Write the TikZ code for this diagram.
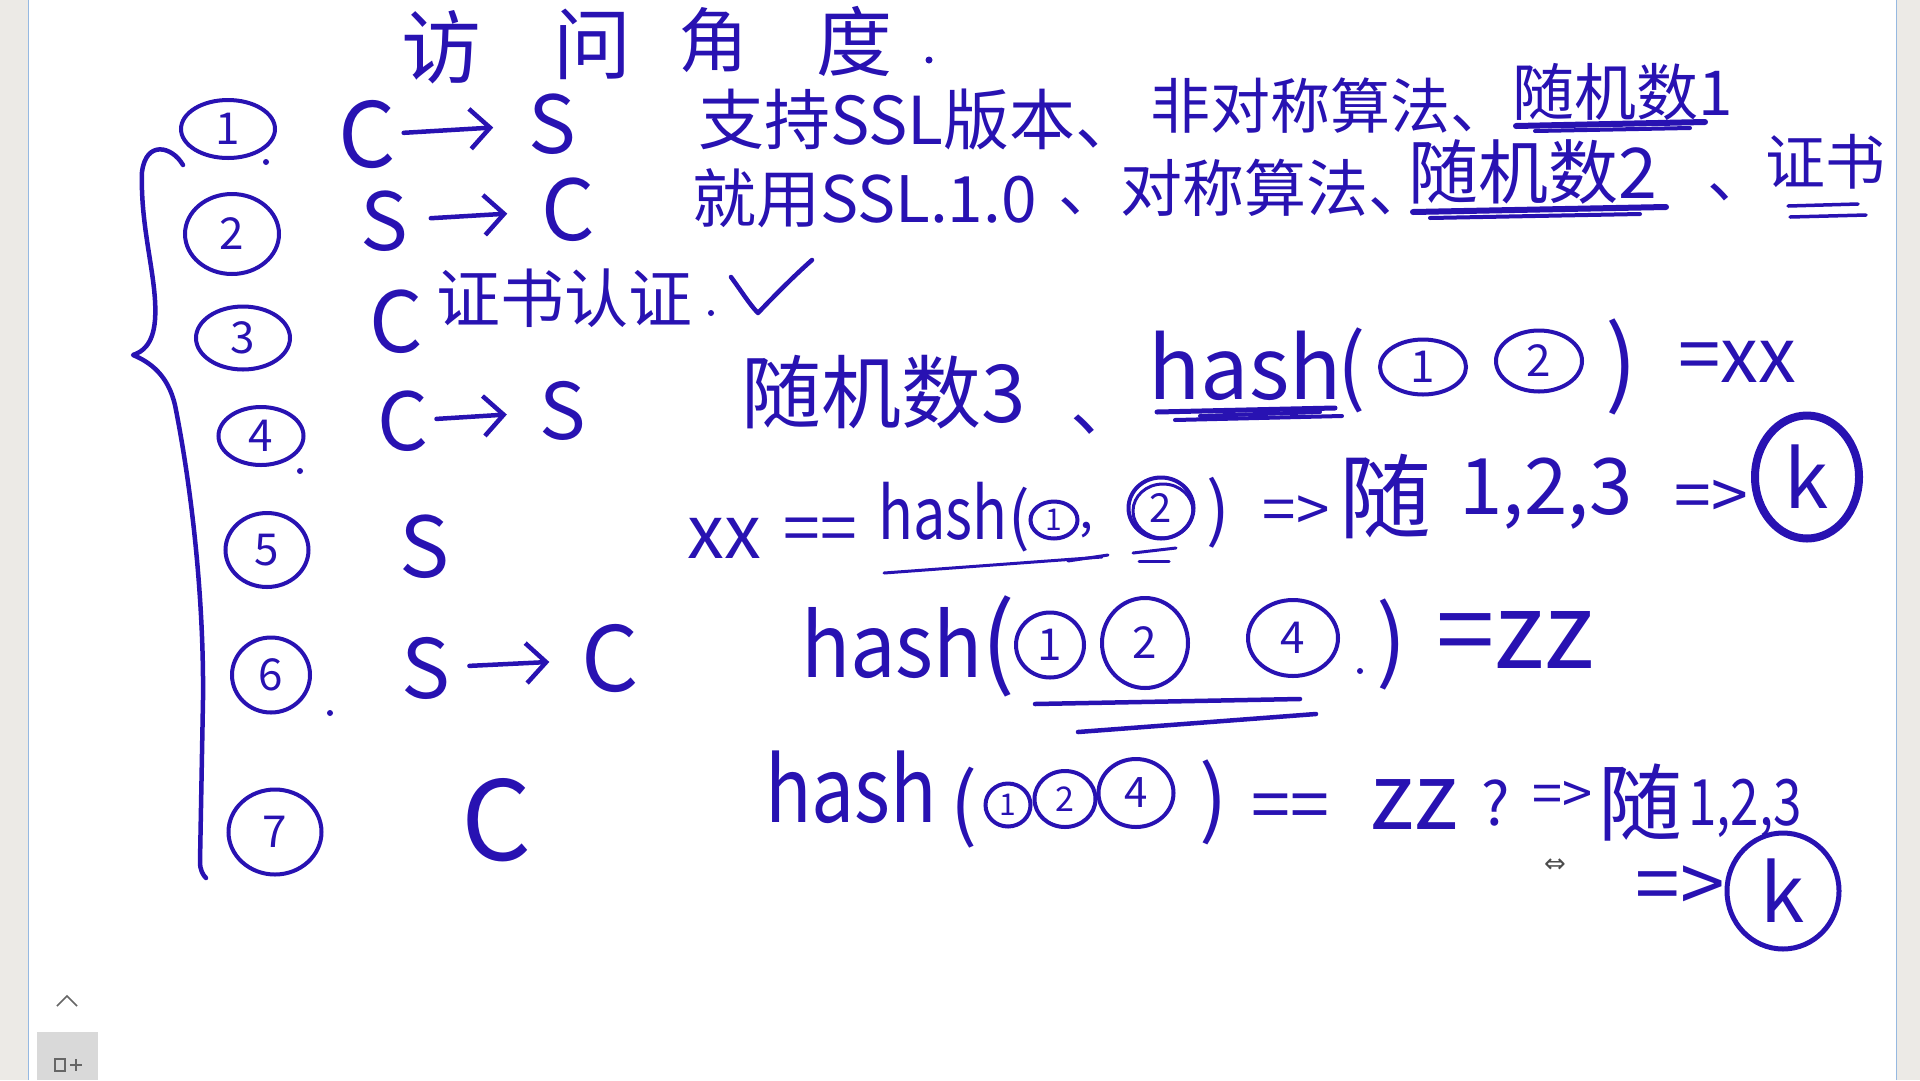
\documentclass[tikz,border=0pt]{standalone}
\usepackage{fontspec}
\usepackage{graphicx}
\setmainfont{Noto Sans CJK SC}
\newfontfamily\symfnt{DejaVu Sans}
\usetikzlibrary{shapes.geometric,arrows.meta}
\definecolor{ink}{RGB}{40,18,178}
\definecolor{side}{RGB}{236,234,230}
\definecolor{edgeblue}{RGB}{150,185,225}
\newcommand\hsz[1]{\fontsize{#1}{#1}\selectfont}
\begin{document}
\begin{tikzpicture}[x=1pt,y=-1pt,
  hw/.style={text=ink, inner sep=0pt, outer sep=0pt},
  pen/.style={draw=ink, line width=4.5pt, line cap=round, line join=round},
  num/.style={ellipse, draw=ink, line width=4pt, text=ink, inner sep=0pt, font=\hsz{44}},
  harrow/.style={pen, -{Straight Barb[length=20pt,width=40pt]}},
  kcirc/.style={ellipse, draw=ink, text=ink, inner sep=0pt, font=\hsz{80}}
]
\useasboundingbox (0,0) rectangle (1920,1080);
\fill[white] (0,0) rectangle (1920,1080);
\fill[side] (0,0) rectangle (28,1080);
\fill[side] (1897,0) rectangle (1920,1080);
\draw[edgeblue,line width=1.5pt] (28.5,0) -- (28.5,1080);
\draw[edgeblue,line width=1.5pt] (1896.5,0) -- (1896.5,1080);

% title
\node[hw,font=\hsz{80}] (t1) at (441,47) {访};
\node[hw,font=\hsz{78}] (t2) at (592,44) {问};
\node[hw,font=\hsz{70}] (t3) at (713,40) {角};
\node[hw,font=\hsz{76}] (t4) at (854,41) {度};
\fill[ink] (929,60) circle (3.5);

% brace
\draw[pen] (183,165) .. controls (172,146) and (146,140) .. (142,172)
  .. controls (140,230) and (158,280) .. (155,320)
  .. controls (153,345) and (142,352) .. (133,355)
  .. controls (150,362) and (168,375) .. (175,405)
  .. controls (192,490) and (204,600) .. (203,700)
  -- (200,862) .. controls (200,870) and (203,875) .. (206,878);

% row 1
\node[num,minimum width=94,minimum height=58] (n1) at (228,129) {1};
\fill[ink] (266,162) circle (3);
\node[hw,font=\hsz{90}] (c1) at (367,135) {C};
\node[hw,font=\hsz{80}] (s1) at (552,124) {S};
\draw[harrow,shorten <=8pt,shorten >=35pt] (c1) -- (s1);
\node[hw,font=\hsz{66},anchor=west] (r1a) at (698,120) {支持SSL版本、};
\node[hw,font=\hsz{60},anchor=west] (r1b) at (1150,106) {非对称算法、};
\node[hw,font=\hsz{62},anchor=west] (r1c) at (1512,92) {随机数1};
\draw[pen,line width=6pt] (1516,126) -- (1705,122);
\draw[pen,line width=4pt] (1535,131) -- (1690,128);

% row 2
\node[num,minimum width=94,minimum height=80] (n2) at (232,234) {2};
\node[hw,font=\hsz{80}] (s2) at (384,221) {S};
\node[hw,font=\hsz{84}] (c2) at (568,210) {C};
\draw[harrow,shorten <=23pt,shorten >=34pt] (s2) -- (c2);
\node[hw,font=\hsz{64},anchor=west] (r2a) at (692,198) {就用SSL.1.0};
\node[hw,font=\hsz{62},anchor=west] (r2b) at (1058,188) {、对称算法、};
\node[hw,font=\hsz{70},anchor=west] (r2c) at (1408,172) {随机数2};
\draw[pen,line width=6pt] (1413,212) -- (1666,207);
\draw[pen,line width=4pt] (1430,218) -- (1640,214);
\node[hw,font=\hsz{62}] (r2d) at (1738,192) {、};
\node[hw,font=\hsz{60},anchor=west] (r2e) at (1765,162) {证书};
\draw[pen,line width=3.5pt] (1788,206) -- (1858,204);
\draw[pen,line width=3.5pt] (1790,217) -- (1866,215);

% row 3
\node[num,minimum width=94,minimum height=63] (n3) at (243,338) {3};
\node[hw,font=\hsz{84}] (c3) at (396,322) {C};
\node[hw,font=\hsz{64},anchor=west] (r3) at (436,298) {证书认证};
\fill[ink] (711,313) circle (3);
\draw[pen] (731,277) .. controls (742,292) and (750,305) .. (758,313) .. controls (775,295) and (795,275) .. (812,260);

% row 4
\node[num,minimum width=85,minimum height=58] (n4) at (261,436) {4};
\fill[ink] (300,471) circle (3);
\node[hw,font=\hsz{80}] (c4) at (403,421) {C};
\node[hw,font=\hsz{78}] (s4) at (563,411) {S};
\draw[harrow,shorten <=8pt,shorten >=33pt] (c4) -- (s4);
\node[hw,font=\hsz{80},anchor=west] (r4a) at (741,392) {随机数3};
\node[hw,font=\hsz{70}] (r4b) at (1105,425) {、};
\node[hw,font=\hsz{86}] (h4) at (1245,366) {hash};
\draw[pen,line width=5pt] (1157,412) -- (1335,408);
\draw[pen,line width=4pt] (1175,420) -- (1342,416);
\draw[pen,line width=4pt] (1200,416) -- (1320,412);
\node[hw,font=\hsz{84}] (lp4) at (1352,370) {(};
\node[num,minimum width=86,minimum height=55] (a41) at (1423,367) {1};
\node[num,minimum width=86,minimum height=61] (a42) at (1539,361) {2};
\node[hw,font=\hsz{95}] (rp4) at (1622,367) {)};
\node[hw,font=\hsz{76}] (e4) at (1737,362) {=xx};

% row 5
\node[num,minimum width=83,minimum height=74] (n5) at (267,550) {5};
\node[hw,font=\hsz{84}] (s5) at (425,547) {S};
\node[hw,font=\hsz{74}] (x5) at (724,538) {xx};
\node[hw,font=\hsz{66}] (q5) at (820,535) {==};
\node[hw,font=\hsz{72}] (h5) at (943,511) {\scalebox{0.8}[1]{hash}};
\node[hw,font=\hsz{64}] (lp5) at (1019,520) {(};
\node[num,minimum width=47,minimum height=37,font=\hsz{30}] (a51) at (1054,520) {1};
\node[hw,font=\hsz{50}] (cm5) at (1086,530) {,};
\node[num,minimum width=65,minimum height=61,font=\hsz{40}] (a52) at (1161,508) {2};
\draw[ink,line width=3pt] (1163,511) ellipse (30 and 27);
\node[hw,font=\hsz{70}] (rp5) at (1218,513) {)};
\draw[pen,line width=3pt] (884,573) -- (1102,557);
\draw[pen,line width=3pt] (1068,561) -- (1108,555);
\draw[pen,line width=3pt] (1133,553) -- (1176,548);
\draw[pen,line width=3pt] (1139,561) -- (1169,561);
\node[hw,font=\hsz{60}] (ar5a) at (1296,514) {=>};
\node[hw,font=\hsz{92}] (sui5) at (1385,496) {随};
\node[hw,font=\hsz{78}] (n5b) at (1546,494) {1,2,3};
\node[hw,font=\hsz{66}] (ar5b) at (1711,500) {=>};
\node[kcirc,line width=8pt,minimum width=104,minimum height=123] (k1) at (1807,477) {k};

% row 6
\node[num,minimum width=78,minimum height=75] (n6) at (271,675) {6};
\fill[ink] (330,713) circle (3);
\node[hw,font=\hsz{82}] (s6) at (426,668) {S};
\node[hw,font=\hsz{90}] (c6) at (610,659) {C};
\draw[harrow,shorten <=19pt,shorten >=32pt] (s6) -- (c6);
\node[hw,font=\hsz{88}] (h6) at (892,643) {\scalebox{0.92}[1]{hash}};
\node[hw,font=\hsz{100}] (lp6) at (998,646) {(};
\node[num,minimum width=68,minimum height=65] (a61) at (1050,645) {1};
\node[num,minimum width=86,minimum height=90] (a62) at (1145,643) {2};
\node[num,minimum width=90,minimum height=76] (a64) at (1293,638) {4};
\fill[ink] (1360,671) circle (3);
\node[hw,font=\hsz{90}] (rp6) at (1392,644) {)};
\node[hw,font=\hsz{105}] (e6) at (1515,640) {=zz};
\draw[pen] (1035,704) -- (1300,699);
\draw[pen] (1078,732) -- (1316,714);

% row 7
\node[num,minimum width=93,minimum height=85] (n7) at (275,832) {7};
\node[hw,font=\hsz{110}] (c7) at (497,820) {C};
\node[hw,font=\hsz{90}] (h7) at (851,787) {\scalebox{0.85}[1]{hash}};
\node[hw,font=\hsz{80}] (lp7) at (964,808) {(};
\node[num,minimum width=45,minimum height=43,font=\hsz{30}] (a71) at (1008,805) {1};
\node[num,minimum width=61,minimum height=56,font=\hsz{34}] (a72) at (1065,799) {2};
\node[num,minimum width=75,minimum height=68,font=\hsz{42}] (a74) at (1136,793) {4};
\node[hw,font=\hsz{84}] (rp7) at (1214,802) {)};
\node[hw,font=\hsz{70}] (q7) at (1290,812) {==};
\node[hw,font=\hsz{92}] (z7) at (1414,805) {zz};
\node[hw,font=\hsz{60}] (qm7) at (1496,803) {?};
\node[hw,font=\hsz{54}] (ar7a) at (1562,797) {=>};
\node[hw,font=\hsz{84}] (sui7) at (1640,803) {随};
\node[hw,font=\hsz{64}] (n7b) at (1745,808) {\scalebox{0.8}[1]{1,2,3}};
\node[hw,font=\hsz{80}] (ar7b) at (1680,890) {=>};
\node[kcirc,line width=5pt,minimum width=112,minimum height=116] (k2) at (1783,891) {k};

% cursor and UI
\node[font=\symfnt\hsz{26},text=black!70,inner sep=0pt] (cur) at (1555,866) {⇔};
\draw[black!60,line width=1.5pt] (57,1006) -- (67,996) -- (77,1006);
\fill[black!15] (37,1032) rectangle (98,1080);
\draw[black!60,line width=1.3pt] (55,1059) rectangle (65,1071);
\draw[black!60,line width=1.3pt] (70,1065) -- (82,1065) (76,1059) -- (76,1071);
\end{tikzpicture}
\end{document}
